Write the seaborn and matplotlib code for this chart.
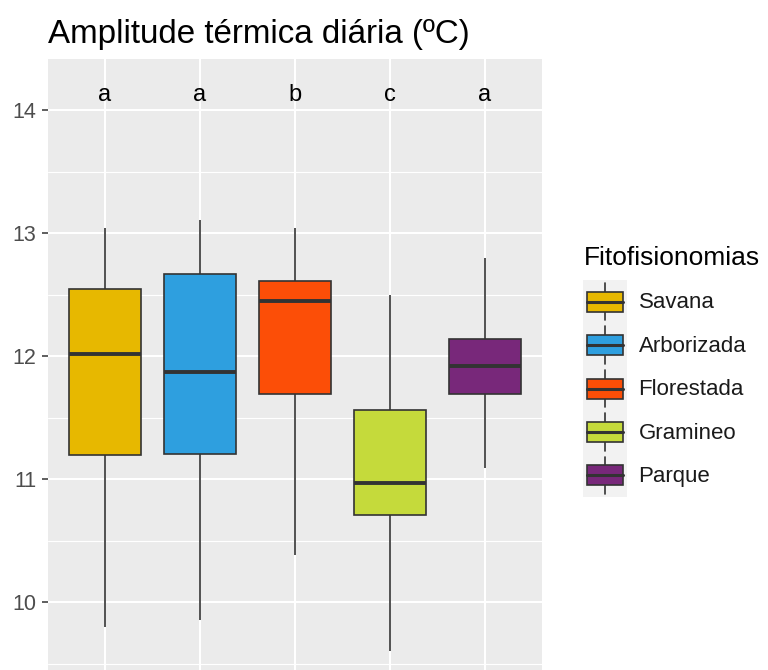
#Boxplot da amplitude termica diaria por fitofisionomia
import matplotlib
matplotlib.use("Agg")
import matplotlib.pyplot as plt
from matplotlib.patches import Rectangle, Patch
from matplotlib.lines import Line2D
from matplotlib.legend_handler import HandlerBase
from matplotlib.ticker import MultipleLocator
import pandas as pd
import seaborn as sns

#Grupos e resumo de cinco numeros (min, q1, mediana, q3, max)
grupos = ["Savana", "Arborizada", "Florestada", "Gramineo", "Parque"]
savana = [9.80, 11.195, 12.02, 12.545, 13.04]
arborizada = [9.85, 11.20, 11.87, 12.67, 13.11]
florestada = [10.38, 11.69, 12.45, 12.61, 13.04]
gramineo = [9.60, 10.71, 10.97, 11.56, 12.50]
parque = [11.09, 11.69, 11.92, 12.14, 12.80]
letras = ["a", "a", "b", "c", "a"]
cores = ["#E7B800", "#2E9FDF", "#FC4E07", "#C5DA3B", "#78287A"]

valores = [savana, arborizada, florestada, gramineo, parque]
df = pd.DataFrame({
    "grupo": [g for g, v in zip(grupos, valores) for _ in v],
    "amplitude": [x for v in valores for x in v],
})

sns.set_theme(style="darkgrid")
plt.rcParams["font.family"] = ["Liberation Sans", "DejaVu Sans"]
plt.rcParams["axes.facecolor"] = "#EBEBEB"

fig = plt.figure(figsize=(7.68, 6.70), dpi=100)
fig.patch.set_facecolor("white")
ax = fig.add_axes([48/768, 1 - 682/670, 494/768, 623/670])

sns.boxplot(data=df, x="grupo", y="amplitude", hue="grupo", order=grupos,
            hue_order=grupos, palette=cores, saturation=1, dodge=False,
            width=0.75, whis=(0, 100), linecolor="#333333", linewidth=1.2,
            showcaps=False, legend=False, ax=ax,
            medianprops=dict(color="#333333", linewidth=2.8))

#Letras de significancia
for i, l in enumerate(letras):
    ax.text(i, 14.12, l, ha="center", va="center", fontsize=17, color="black")

ax.set_xlim(-0.6, len(grupos) - 0.4)
ax.set_ylim(9.35, 14.415)
ax.yaxis.set_major_locator(MultipleLocator(1))
ax.yaxis.set_minor_locator(MultipleLocator(0.5))
ax.grid(which="major", color="white", linewidth=1.5)
ax.grid(which="minor", axis="y", color="white", linewidth=0.8)
ax.set_axisbelow(True)
for s in ax.spines.values():
    s.set_visible(False)
ax.set_xlabel("")
ax.set_ylabel("")
ax.tick_params(axis="y", which="major", left=True, length=4.5, width=1.1,
               color="#333333", labelsize=15.5, labelcolor="#4D4D4D", pad=4)
ax.tick_params(axis="y", which="minor", left=False)
ax.tick_params(axis="x", bottom=False, labelbottom=False)

fig.text(48/768, 1 - 35/670, "Amplitude térmica diária (ºC)", ha="left",
         va="center", fontsize=23.9, color="black")

#Chave da legenda com um mini boxplot
class BoxKey(HandlerBase):
    def create_artists(self, legend, orig_handle, xdescent, ydescent,
                       width, height, fontsize, trans):
        x0, y0 = -xdescent, -ydescent
        cx, cy = x0 + width/2, y0 + height/2
        bw, bh = width*0.8, height*0.46
        fundo = Rectangle((x0, y0), width, height, facecolor="#F2F2F2",
                          edgecolor="none", transform=trans)
        w1 = Line2D([cx, cx], [cy + bh/2, y0 + height*0.93], color="#333333",
                    lw=1.2, transform=trans)
        w2 = Line2D([cx, cx], [cy - bh/2, y0 + height*0.07], color="#333333",
                    lw=1.2, transform=trans)
        caixa = Rectangle((cx - bw/2, cy - bh/2), bw, bh,
                          facecolor=orig_handle.get_facecolor(),
                          edgecolor="#333333", lw=1.2, transform=trans)
        med = Line2D([cx - bw/2, cx + bw/2], [cy, cy], color="#333333",
                     lw=2.2, transform=trans)
        return [fundo, w1, w2, caixa, med]

fig.text(584/768, 1 - 258/670, "Fitofisionomias", ha="left", va="center",
         fontsize=19, color="black")
handles = [Patch(facecolor=c, label=g) for g, c in zip(grupos, cores)]
leg = fig.legend(handles=handles, labels=grupos, loc="upper left",
                 bbox_to_anchor=(583/768, 1 - 280/670), frameon=False,
                 borderaxespad=0, borderpad=0, fontsize=16,
                 handlelength=2.0, handleheight=2.63, labelspacing=0,
                 handletextpad=0.5, handler_map={Patch: BoxKey()})
for t in leg.get_texts():
    t.set_color("#1A1A1A")

fig.savefig("out.png", dpi=100)
